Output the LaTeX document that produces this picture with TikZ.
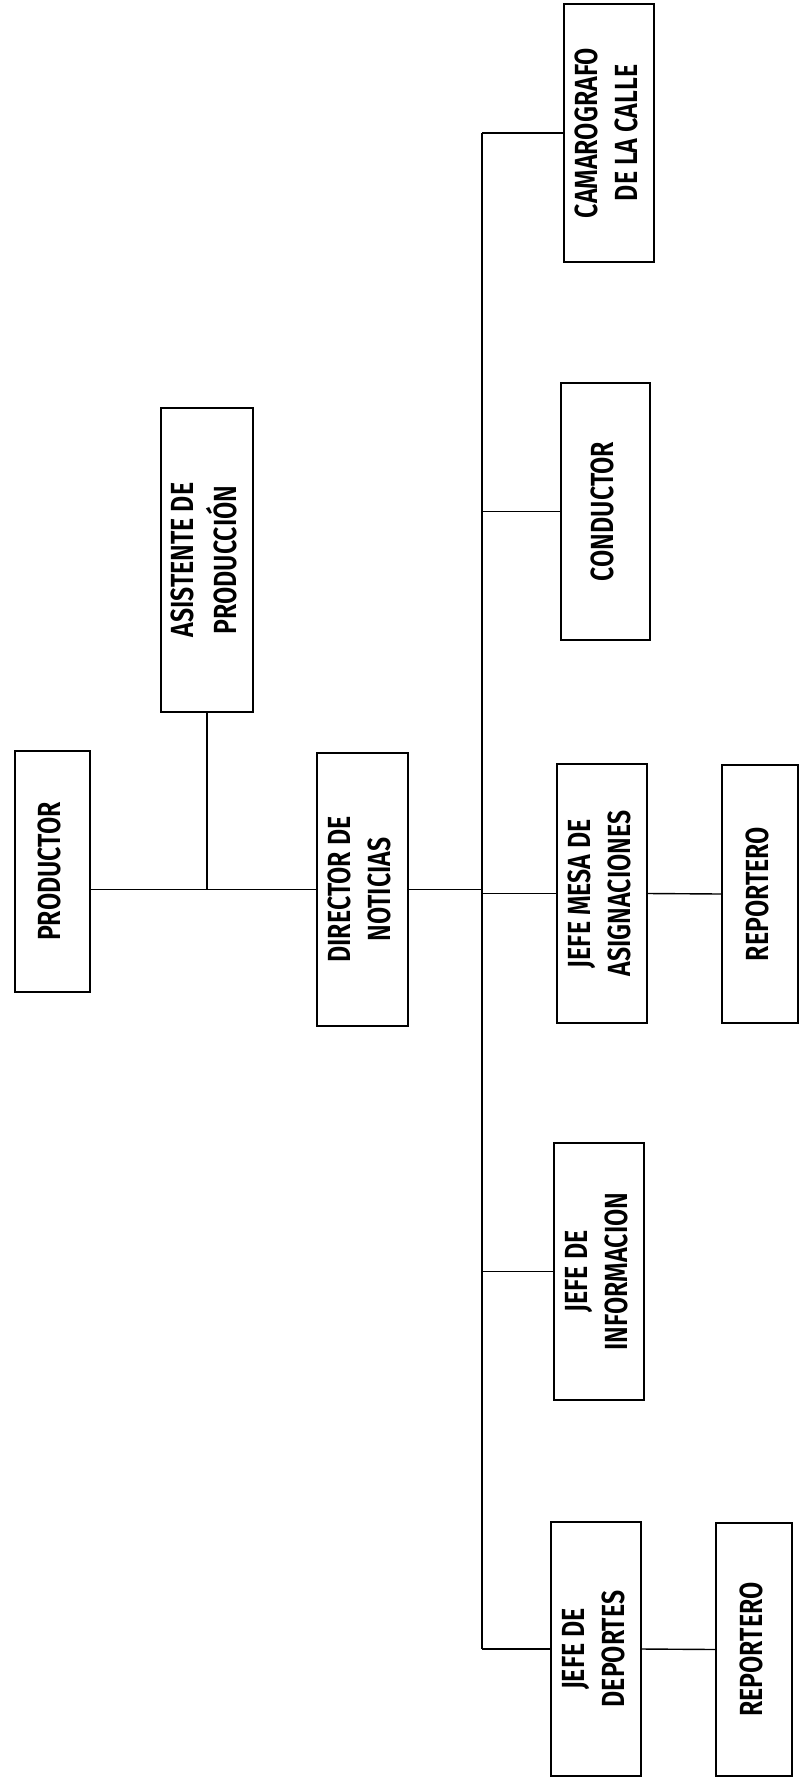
\documentclass[tikz,border=0pt]{standalone}
\usepackage{fontspec}
\newfontfamily\chartfont[FakeStretch=0.78]{Fira Sans SemiBold}
\newcommand{\rt}[1]{\rotatebox{90}{\begin{tabular}{@{}c@{}}#1\end{tabular}}}
\begin{document}
\begin{tikzpicture}[x=1pt,y=1pt,
  box/.style={draw, line width=1.4pt, inner sep=0pt, font=\chartfont\fontsize{32}{40}\selectfont},
  link/.style={line width=1.4pt}]
\useasboundingbox (0,0) rectangle (803,-1781);
\node[box, minimum width=75, minimum height=241] (prod) at (52.5,-871.5) {\rt{PRODUCTOR}};
\node[box, minimum width=92, minimum height=304] (asist) at (207,-560) {\rt{ASISTENTE DE\\PRODUCCIÓN}};
\node[box, minimum width=91, minimum height=273] (dir) at (362.5,-889.5) {\rt{DIRECTOR DE\\NOTICIAS}};
\node[box, minimum width=90, minimum height=258] (cam) at (609,-133) {\rt{CAMAROGRAFO\\DE LA CALLE}};
\node[box, minimum width=89, minimum height=257] (cond) at (605.5,-511.5) {\rt{CONDUCTOR}};
\node[box, minimum width=90, minimum height=259] (mesa) at (602,-893.5) {\rt{JEFE MESA DE\\ASIGNACIONES}};
\node[box, minimum width=76, minimum height=258] (rep1) at (760,-894) {\rt{REPORTERO}};
\node[box, minimum width=90, minimum height=257] (info) at (599,-1271.5) {\rt{JEFE DE\\INFORMACION}};
\node[box, minimum width=90, minimum height=254] (dep) at (596,-1649) {\rt{JEFE DE\\DEPORTES}};
\node[box, minimum width=76, minimum height=253] (rep2) at (754,-1649.5) {\rt{REPORTERO}};
\coordinate (top) at (482,-133);
\coordinate (bot) at (482,-1649);
\draw[link] (top) -- (bot);
\draw[link] (top) -- (cam.west);
\draw[link] (cond.west -| top) -- (cond.west);
\draw[link] (mesa.west -| top) -- (mesa.west);
\draw[link] (info.west -| top) -- (info.west);
\draw[link] (bot) -- (dep.west);
\draw[link] (prod.east |- dir.west) -- (dir.west);
\draw[link] (dir.east) -- (dir.east -| top);
\draw[link] (asist.south) -- (asist.south |- dir.west);
\draw[link] (mesa.east) -- (rep1.west);
\draw[link] (dep.east) -- (rep2.west);
\end{tikzpicture}
\end{document}
